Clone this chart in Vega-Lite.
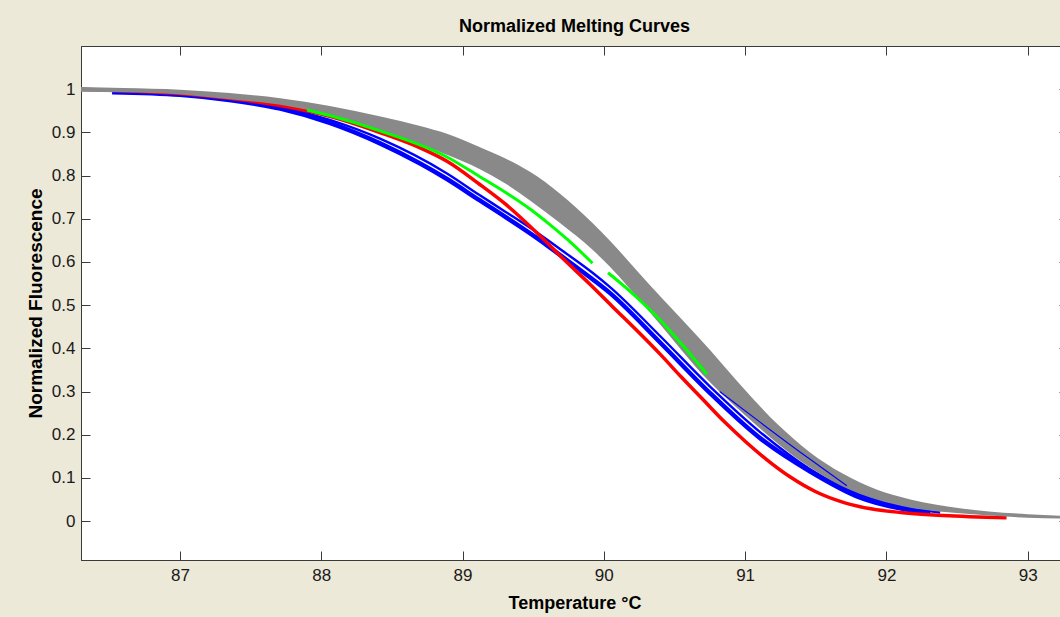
{
  "$schema": "https://vega.github.io/schema/vega-lite/v6.json",
  "width": 987,
  "height": 514,
  "autosize": {"type": "none"},
  "padding": {"left": 81, "top": 46, "right": 0, "bottom": 57},
  "background": "#ECE9D8",
  "config": {
    "view": {"stroke": "#3a3a3a", "strokeWidth": 1, "fill": "white"},
    "font": "Liberation Sans",
    "axis": {
      "labelFont": "Liberation Sans", "labelFontSize": 17, "labelColor": "#1a1a1a",
      "titleFont": "Liberation Sans", "titleFontSize": 18, "titleFontWeight": "bold", "titleColor": "#000000",
      "domainColor": "#3a3a3a", "tickColor": "#3a3a3a", "grid": false, "tickSize": -9, "tickWidth": 1
    }
  },
  "title": {"text": "Normalized Melting Curves", "font": "Liberation Sans", "fontSize": 18, "fontWeight": "bold", "color": "#000000", "offset": 10, "anchor": "middle"},
  "datasets": {
    "curves": [
      {"s": "blueA", "T": 86.52, "v": 0.993}, {"s": "blueA", "T": 87.00, "v": 0.987}, {"s": "blueA", "T": 87.35, "v": 0.975},
      {"s": "blueA", "T": 87.71, "v": 0.955}, {"s": "blueA", "T": 88.06, "v": 0.922}, {"s": "blueA", "T": 88.42, "v": 0.874},
      {"s": "blueA", "T": 88.70, "v": 0.828}, {"s": "blueA", "T": 88.89, "v": 0.792}, {"s": "blueA", "T": 89.12, "v": 0.743},
      {"s": "blueA", "T": 89.30, "v": 0.705}, {"s": "blueA", "T": 89.55, "v": 0.650}, {"s": "blueA", "T": 89.69, "v": 0.616},
      {"s": "blueA", "T": 89.92, "v": 0.560}, {"s": "blueA", "T": 90.04, "v": 0.529}, {"s": "blueA", "T": 90.40, "v": 0.413},
      {"s": "blueA", "T": 90.75, "v": 0.297}, {"s": "blueA", "T": 91.11, "v": 0.191}, {"s": "blueA", "T": 91.46, "v": 0.115},
      {"s": "blueA", "T": 91.81, "v": 0.055}, {"s": "blueA", "T": 92.17, "v": 0.025}, {"s": "blueA", "T": 92.31, "v": 0.018},

      {"s": "blueB", "T": 86.60, "v": 0.994}, {"s": "blueB", "T": 87.00, "v": 0.989}, {"s": "blueB", "T": 87.35, "v": 0.978},
      {"s": "blueB", "T": 87.71, "v": 0.959}, {"s": "blueB", "T": 88.06, "v": 0.929}, {"s": "blueB", "T": 88.42, "v": 0.885},
      {"s": "blueB", "T": 88.89, "v": 0.805}, {"s": "blueB", "T": 89.12, "v": 0.755}, {"s": "blueB", "T": 89.30, "v": 0.717},
      {"s": "blueB", "T": 89.55, "v": 0.663}, {"s": "blueB", "T": 89.69, "v": 0.630}, {"s": "blueB", "T": 89.92, "v": 0.575},
      {"s": "blueB", "T": 90.04, "v": 0.543}, {"s": "blueB", "T": 90.40, "v": 0.428}, {"s": "blueB", "T": 90.75, "v": 0.312},
      {"s": "blueB", "T": 91.11, "v": 0.205}, {"s": "blueB", "T": 91.46, "v": 0.120}, {"s": "blueB", "T": 91.81, "v": 0.062},
      {"s": "blueB", "T": 92.17, "v": 0.030}, {"s": "blueB", "T": 92.38, "v": 0.020},

      {"s": "blueC", "T": 90.82, "v": 0.300}, {"s": "blueC", "T": 91.11, "v": 0.228}, {"s": "blueC", "T": 91.46, "v": 0.143},
      {"s": "blueC", "T": 91.72, "v": 0.082},

      {"s": "red", "T": 86.30, "v": 1.000}, {"s": "red", "T": 86.70, "v": 0.995}, {"s": "red", "T": 87.00, "v": 0.990},
      {"s": "red", "T": 87.35, "v": 0.979}, {"s": "red", "T": 87.71, "v": 0.962}, {"s": "red", "T": 88.06, "v": 0.937},
      {"s": "red", "T": 88.42, "v": 0.899}, {"s": "red", "T": 88.70, "v": 0.864}, {"s": "red", "T": 88.89, "v": 0.833},
      {"s": "red", "T": 89.12, "v": 0.780}, {"s": "red", "T": 89.30, "v": 0.735}, {"s": "red", "T": 89.55, "v": 0.660},
      {"s": "red", "T": 89.72, "v": 0.605}, {"s": "red", "T": 89.90, "v": 0.549}, {"s": "red", "T": 90.06, "v": 0.497},
      {"s": "red", "T": 90.25, "v": 0.436}, {"s": "red", "T": 90.40, "v": 0.386}, {"s": "red", "T": 90.55, "v": 0.333},
      {"s": "red", "T": 90.70, "v": 0.282}, {"s": "red", "T": 90.85, "v": 0.231}, {"s": "red", "T": 91.00, "v": 0.185},
      {"s": "red", "T": 91.15, "v": 0.143}, {"s": "red", "T": 91.32, "v": 0.102}, {"s": "red", "T": 91.50, "v": 0.068},
      {"s": "red", "T": 91.70, "v": 0.043}, {"s": "red", "T": 91.90, "v": 0.028}, {"s": "red", "T": 92.10, "v": 0.020},
      {"s": "red", "T": 92.40, "v": 0.013}, {"s": "red", "T": 92.85, "v": 0.008},

      {"s": "green1", "T": 87.90, "v": 0.952}, {"s": "green1", "T": 88.06, "v": 0.939}, {"s": "green1", "T": 88.42, "v": 0.903},
      {"s": "green1", "T": 88.89, "v": 0.843}, {"s": "green1", "T": 89.12, "v": 0.798}, {"s": "green1", "T": 89.30, "v": 0.762},
      {"s": "green1", "T": 89.48, "v": 0.722}, {"s": "green1", "T": 89.62, "v": 0.686}, {"s": "green1", "T": 89.75, "v": 0.650},
      {"s": "green1", "T": 89.92, "v": 0.597},

      {"s": "green2", "T": 90.03, "v": 0.575}, {"s": "green2", "T": 90.20, "v": 0.528}, {"s": "green2", "T": 90.40, "v": 0.465},
      {"s": "green2", "T": 90.55, "v": 0.410}, {"s": "green2", "T": 90.73, "v": 0.340}
    ],
    "band": [
      {"T": 86.30, "hi": 1.005, "lo": 0.994}, {"T": 86.60, "hi": 1.003, "lo": 0.993}, {"T": 87.00, "hi": 0.999, "lo": 0.988},
      {"T": 87.35, "hi": 0.991, "lo": 0.977}, {"T": 87.71, "hi": 0.979, "lo": 0.964}, {"T": 88.06, "hi": 0.961, "lo": 0.940},
      {"T": 88.42, "hi": 0.937, "lo": 0.905}, {"T": 88.70, "hi": 0.915, "lo": 0.872}, {"T": 88.89, "hi": 0.897, "lo": 0.848},
      {"T": 89.12, "hi": 0.866, "lo": 0.815}, {"T": 89.30, "hi": 0.840, "lo": 0.782}, {"T": 89.48, "hi": 0.808, "lo": 0.742},
      {"T": 89.69, "hi": 0.758, "lo": 0.690}, {"T": 89.92, "hi": 0.690, "lo": 0.628}, {"T": 90.04, "hi": 0.650, "lo": 0.590},
      {"T": 90.33, "hi": 0.545, "lo": 0.482}, {"T": 90.75, "hi": 0.397, "lo": 0.322}, {"T": 90.99, "hi": 0.307, "lo": 0.248},
      {"T": 91.23, "hi": 0.224, "lo": 0.180}, {"T": 91.46, "hi": 0.159, "lo": 0.124}, {"T": 91.69, "hi": 0.110, "lo": 0.080},
      {"T": 91.93, "hi": 0.073, "lo": 0.050}, {"T": 92.17, "hi": 0.050, "lo": 0.031}, {"T": 92.52, "hi": 0.030, "lo": 0.018},
      {"T": 93.00, "hi": 0.016, "lo": 0.008}, {"T": 93.29, "hi": 0.012, "lo": 0.006}
    ]
  },
  "layer": [
    {
      "data": {"name": "curves"},
      "transform": [{"filter": "datum.s === 'blueA'"}],
      "mark": {"type": "line", "color": "#0000FF", "strokeWidth": 4.5, "interpolate": "monotone"},
      "encoding": {
        "x": {"field": "T", "type": "quantitative", "scale": {"domain": [86.3, 93.285], "nice": false, "zero": false},
              "axis": {"orient": "bottom", "values": [87, 88, 89, 90, 91, 92, 93], "title": "Temperature °C", "labelPadding": 16, "titlePadding": 11}},
        "y": {"field": "v", "type": "quantitative", "scale": {"domain": [-0.09, 1.1], "nice": false, "zero": false},
              "axis": {"orient": "left", "values": [0, 0.1, 0.2, 0.3, 0.4, 0.5, 0.6, 0.7, 0.8, 0.9, 1], "format": "~g", "title": "Normalized Fluorescence", "titleFontSize": 19, "labelPadding": 15, "titlePadding": 6}}
      }
    },
    {
      "data": {"name": "curves"},
      "transform": [{"filter": "datum.s === 'blueB'"}],
      "mark": {"type": "line", "color": "#0000FF", "strokeWidth": 2.4, "interpolate": "monotone"},
      "encoding": {
        "x": {"field": "T", "type": "quantitative", "scale": {"domain": [86.3, 93.285], "nice": false, "zero": false}, "axis": null},
        "y": {"field": "v", "type": "quantitative", "scale": {"domain": [-0.09, 1.1], "nice": false, "zero": false}, "axis": null}
      }
    },
    {
      "data": {"name": "curves"},
      "transform": [{"filter": "datum.s === 'red'"}],
      "mark": {"type": "line", "color": "#FF0000", "strokeWidth": 3.5, "interpolate": "monotone"},
      "encoding": {
        "x": {"field": "T", "type": "quantitative", "scale": {"domain": [86.3, 93.285], "nice": false, "zero": false}, "axis": null},
        "y": {"field": "v", "type": "quantitative", "scale": {"domain": [-0.09, 1.1], "nice": false, "zero": false}, "axis": null}
      }
    },
    {
      "data": {"name": "band"},
      "mark": {"type": "area", "color": "#898989", "opacity": 1, "interpolate": "monotone"},
      "encoding": {
        "x": {"field": "T", "type": "quantitative", "scale": {"domain": [86.3, 93.285], "nice": false, "zero": false},
              "axis": {"orient": "top", "values": [87, 88, 89, 90, 91, 92, 93], "labels": false, "domain": false, "title": null}},
        "y": {"field": "hi", "type": "quantitative", "scale": {"domain": [-0.09, 1.1], "nice": false, "zero": false},
              "axis": {"orient": "right", "values": [0, 0.1, 0.2, 0.3, 0.4, 0.5, 0.6, 0.7, 0.8, 0.9, 1], "labels": false, "domain": false, "title": null}},
        "y2": {"field": "lo"}
      }
    },
    {
      "data": {"name": "curves"},
      "transform": [{"filter": "datum.s === 'green1' || datum.s === 'green2'"}],
      "mark": {"type": "line", "color": "#00FF00", "strokeWidth": 3, "interpolate": "monotone"},
      "encoding": {
        "x": {"field": "T", "type": "quantitative", "scale": {"domain": [86.3, 93.285], "nice": false, "zero": false}, "axis": null},
        "y": {"field": "v", "type": "quantitative", "scale": {"domain": [-0.09, 1.1], "nice": false, "zero": false}, "axis": null},
        "detail": {"field": "s"}
      }
    },
    {
      "data": {"name": "curves"},
      "transform": [{"filter": "datum.s === 'blueC'"}],
      "mark": {"type": "line", "color": "#0000FF", "strokeWidth": 1.2, "interpolate": "monotone"},
      "encoding": {
        "x": {"field": "T", "type": "quantitative", "scale": {"domain": [86.3, 93.285], "nice": false, "zero": false}, "axis": null},
        "y": {"field": "v", "type": "quantitative", "scale": {"domain": [-0.09, 1.1], "nice": false, "zero": false}, "axis": null}
      }
    }
  ],
  "resolve": {"axis": {"x": "independent", "y": "independent"}}
}
